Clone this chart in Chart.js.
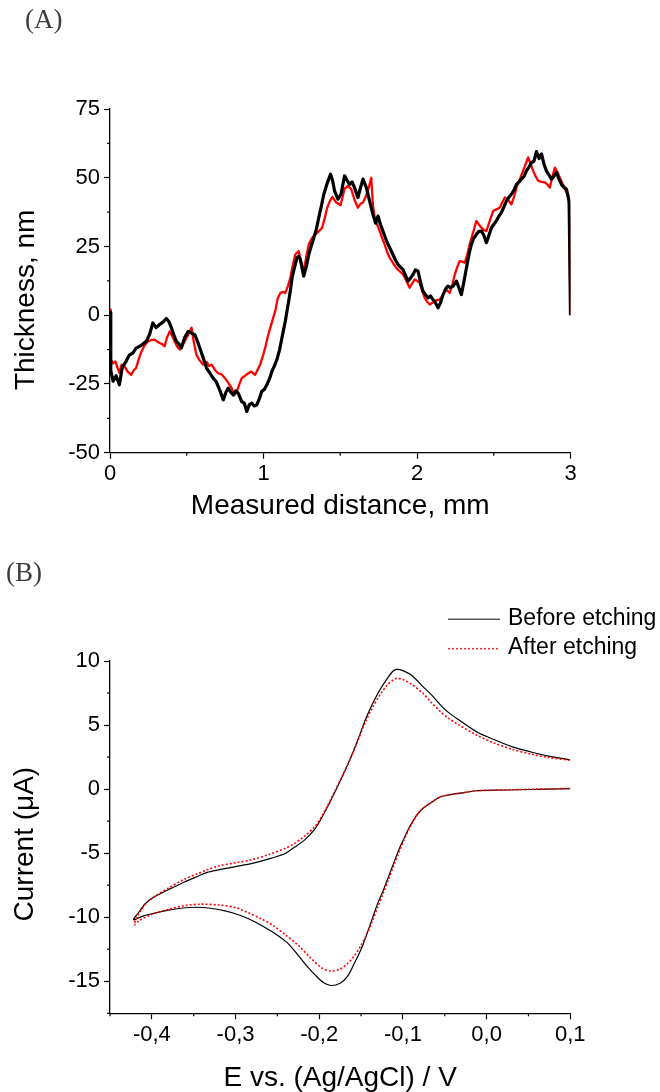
<!DOCTYPE html>
<html><head><meta charset="utf-8">
<script src="https://cdn.jsdelivr.net/npm/chart.js@4.4.1/dist/chart.umd.min.js"></script>
<style>
html,body{margin:0;padding:0;background:#fff;}
#wrap{position:relative;width:660px;height:1092px;overflow:hidden;background:#fff;}
canvas{position:absolute;left:0;}
.panel{position:absolute;font-family:"Liberation Serif","Times New Roman",serif;font-size:27px;line-height:27px;color:#3c3c3c;white-space:nowrap;}
</style></head><body>
<div id="wrap">
<canvas id="chartA" width="660" height="540" style="top:0px"></canvas>
<canvas id="chartB" width="660" height="552" style="top:540px"></canvas>
<div class="panel" style="left:25px;top:6px">(A)</div>
<div class="panel" style="left:6px;top:559px">(B)</div>
</div>
<script>
// ---------- Panel A: thickness profile ----------
const distanceBefore = [0, 0.005, 0.02, 0.04, 0.061, 0.08, 0.105, 0.125, 0.148, 0.17, 0.192, 0.215, 0.236, 0.258, 0.279, 0.3, 0.323, 0.345, 0.367, 0.385, 0.4, 0.415, 0.432, 0.45, 0.465, 0.487, 0.509, 0.53, 0.552, 0.57, 0.585, 0.607, 0.629, 0.65, 0.672, 0.69, 0.705, 0.72, 0.738, 0.755, 0.771, 0.787, 0.803, 0.82, 0.836, 0.858, 0.875, 0.891, 0.908, 0.924, 0.94, 0.956, 0.972, 0.989, 1.005, 1.022, 1.04, 1.055, 1.07, 1.087, 1.105, 1.12, 1.13, 1.142, 1.153, 1.164, 1.175, 1.186, 1.2, 1.218, 1.23, 1.24, 1.25, 1.262, 1.28, 1.295, 1.31, 1.328, 1.345, 1.36, 1.378, 1.393, 1.415, 1.437, 1.45, 1.463, 1.485, 1.505, 1.528, 1.545, 1.561, 1.577, 1.593, 1.615, 1.63, 1.648, 1.67, 1.691, 1.713, 1.73, 1.746, 1.762, 1.778, 1.795, 1.811, 1.827, 1.843, 1.86, 1.876, 1.892, 1.909, 1.925, 1.941, 1.958, 1.974, 1.99, 2.007, 2.023, 2.039, 2.055, 2.072, 2.088, 2.104, 2.12, 2.137, 2.153, 2.17, 2.186, 2.202, 2.218, 2.235, 2.257, 2.273, 2.289, 2.305, 2.322, 2.338, 2.354, 2.37, 2.387, 2.403, 2.42, 2.436, 2.452, 2.468, 2.485, 2.5, 2.517, 2.533, 2.55, 2.567, 2.583, 2.6, 2.615, 2.632, 2.648, 2.665, 2.68, 2.697, 2.713, 2.73, 2.746, 2.762, 2.778, 2.795, 2.811, 2.827, 2.843, 2.86, 2.876, 2.892, 2.909, 2.925, 2.941, 2.958, 2.974, 2.991, 3.0];
const thicknessBefore = [1, -20, -24, -22, -25.3, -19, -16.8, -14.5, -13.8, -12, -11.3, -10.5, -9.5, -7, -2.8, -4.5, -3.4, -2.5, -1.2, -2.5, -4.6, -7, -9.5, -10.5, -11.9, -8, -5.9, -6.5, -7.1, -9.5, -11.9, -15.5, -19.2, -21, -22.9, -24, -25.9, -28, -30.8, -28, -26.5, -28, -29, -27.5, -28.4, -31.4, -32, -35, -32.5, -32, -33, -32.6, -30.5, -27.7, -27, -25.3, -23, -20.4, -18.5, -16.2, -12.5, -8.3, -5.5, -2.2, 1.5, 5.1, 9, 13.6, 17, 20.9, 21.5, 20.3, 17.5, 14.2, 18, 22.1, 25, 28.2, 31.5, 35.5, 40, 44, 48, 51.3, 49, 45.2, 42.2, 44, 50.7, 49, 47.6, 48.5, 46.4, 42.8, 46, 49.5, 46.4, 41.6, 36.7, 33.5, 36.1, 33, 30.6, 28, 25.8, 24, 22.1, 20, 18.5, 17.5, 16.6, 14.5, 12.4, 13.5, 14.8, 16.5, 16, 12, 8.7, 7.5, 6.3, 7, 5.7, 4.5, 2.7, 4.5, 7.5, 9.5, 10.6, 10, 10.6, 12.4, 10, 7.5, 12, 17.2, 22, 25.8, 28, 29.4, 30.5, 30.6, 29, 26.4, 29, 31.8, 33, 34.3, 36, 37.3, 39.5, 41.6, 43, 44, 45.5, 47.6, 48.5, 49.5, 50.5, 52.5, 54, 55.5, 56, 59.5, 57, 58.7, 55, 52.5, 51, 49.5, 50.5, 51.9, 49.5, 47.6, 46.5, 45.8, 41.6, 0];
const distanceAfter = [0, 0.005, 0.02, 0.035, 0.05, 0.061, 0.075, 0.094, 0.115, 0.138, 0.155, 0.17, 0.19, 0.205, 0.225, 0.247, 0.27, 0.29, 0.305, 0.323, 0.34, 0.356, 0.372, 0.389, 0.405, 0.421, 0.438, 0.454, 0.47, 0.487, 0.51, 0.531, 0.545, 0.563, 0.585, 0.607, 0.63, 0.645, 0.662, 0.685, 0.705, 0.727, 0.749, 0.77, 0.793, 0.81, 0.825, 0.84, 0.858, 0.88, 0.901, 0.92, 0.945, 0.96, 0.978, 0.995, 1.011, 1.027, 1.044, 1.06, 1.076, 1.092, 1.109, 1.125, 1.142, 1.158, 1.175, 1.19, 1.207, 1.229, 1.245, 1.262, 1.278, 1.295, 1.315, 1.338, 1.36, 1.382, 1.4, 1.415, 1.433, 1.448, 1.474, 1.502, 1.528, 1.55, 1.572, 1.593, 1.615, 1.632, 1.648, 1.665, 1.68, 1.702, 1.713, 1.724, 1.74, 1.757, 1.773, 1.789, 1.805, 1.822, 1.843, 1.865, 1.887, 1.909, 1.93, 1.952, 1.968, 1.985, 2.0, 2.017, 2.033, 2.05, 2.067, 2.083, 2.1, 2.115, 2.13, 2.148, 2.165, 2.18, 2.197, 2.213, 2.23, 2.246, 2.262, 2.278, 2.295, 2.311, 2.327, 2.343, 2.365, 2.387, 2.403, 2.42, 2.436, 2.452, 2.475, 2.496, 2.517, 2.539, 2.555, 2.572, 2.593, 2.615, 2.632, 2.648, 2.67, 2.691, 2.708, 2.724, 2.74, 2.757, 2.773, 2.789, 2.81, 2.833, 2.85, 2.865, 2.88, 2.898, 2.915, 2.93, 2.947, 2.963, 2.98, 2.991, 3.0];
const thicknessAfter = [2, -16, -17.5, -16.8, -19.2, -21, -18, -18.5, -20.5, -21.7, -20, -19.2, -15.5, -13.2, -11, -9.5, -9, -8.9, -9.5, -10.1, -10.5, -11.3, -8, -5.9, -7.5, -9.5, -11.5, -12.5, -11, -9.5, -7, -4.5, -9.5, -14.4, -16.5, -18, -17, -18.5, -18, -20, -21.1, -21.5, -22.9, -24.5, -26.5, -29, -28, -25.5, -22.9, -22, -21.1, -20.5, -21.7, -20, -18, -15, -11.9, -8, -4.6, -1.5, 1.4, 6, 8, 8.5, 8.1, 10.5, 13.6, 18, 22.1, 23.3, 19.5, 16, 21, 25.8, 28, 29.4, 30.5, 31.8, 35.5, 39.1, 41.6, 43, 41, 40, 46, 47, 45.8, 42, 39.1, 40.5, 41, 43, 45.2, 50, 40, 35.5, 33, 30.6, 28, 25.8, 23, 20.9, 19, 17.2, 16, 14.8, 12.5, 10, 11.5, 13, 12.5, 11.8, 9, 6.3, 4.8, 3.9, 4.5, 5.1, 5.5, 5.7, 7, 8.7, 9, 8.1, 11, 14.8, 17.5, 19.7, 19.5, 19.1, 22, 25.8, 30, 34.3, 33, 31.8, 31, 30.6, 34.5, 37.9, 38.5, 39.1, 41, 42.8, 42, 40.3, 43, 46.4, 49.5, 52.5, 55, 57.4, 55, 52.5, 50.5, 48.9, 48.5, 48.3, 47.5, 46.4, 50, 53.7, 52, 50.1, 48, 45.8, 44, 40.3, 0];
const distanceTicks = [0, 1, 2, 3];
const distanceMinorTicks = [0.5, 1.5, 2.5];
const thicknessTicks = [-50, -25, 0, 25, 50, 75];
const thicknessMinorTicks = [-37.5, -12.5, 12.5, 37.5, 62.5];

// ---------- Panel B: cyclic voltammograms ----------
const seriesLabels = ['Before etching', 'After etching'];
const potentialBefore = [0.1, 0.075, 0.05, 0.025, 0, -0.012, -0.03, -0.045, -0.055, -0.064, -0.076, -0.083, -0.089, -0.094, -0.099, -0.104, -0.11, -0.117, -0.124, -0.13, -0.136, -0.143, -0.15, -0.158, -0.166, -0.175, -0.186, -0.195, -0.205, -0.215, -0.226, -0.238, -0.25, -0.265, -0.28, -0.295, -0.31, -0.33, -0.347, -0.365, -0.38, -0.395, -0.41, -0.422, -0.416, -0.408, -0.398, -0.388, -0.377, -0.361, -0.345, -0.334, -0.32, -0.3, -0.28, -0.26, -0.248, -0.24, -0.231, -0.218, -0.205, -0.195, -0.184, -0.173, -0.162, -0.153, -0.145, -0.136, -0.128, -0.119, -0.112, -0.107, -0.1, -0.09, -0.076, -0.065, -0.055, -0.045, -0.033, -0.012, 0.01, 0.031, 0.053, 0.074, 0.1];
const currentBefore = [0.03, 0, -0.03, -0.07, -0.1, -0.13, -0.3, -0.45, -0.6, -0.95, -1.5, -2, -2.6, -3.2, -3.9, -4.6, -5.6, -6.8, -8, -8.9, -10, -11.3, -12.5, -13.6, -14.6, -15.15, -15.33, -15.1, -14.5, -13.8, -12.9, -12, -11.4, -10.8, -10.25, -9.85, -9.55, -9.3, -9.22, -9.3, -9.45, -9.65, -9.9, -10.2, -9.65, -8.95, -8.45, -8.1, -7.75, -7.25, -6.8, -6.5, -6.3, -6.05, -5.8, -5.45, -5.2, -5, -4.6, -4, -3.1, -2, -0.6, 0.9, 2.5, 4, 5.4, 6.7, 7.7, 8.6, 9.2, 9.35, 9.25, 8.9, 8, 7.3, 6.56, 5.95, 5.4, 4.48, 3.83, 3.3, 2.9, 2.58, 2.29];
const potentialAfter = [0.1, 0.075, 0.05, 0.025, 0, -0.012, -0.03, -0.045, -0.055, -0.064, -0.076, -0.083, -0.089, -0.094, -0.099, -0.104, -0.11, -0.117, -0.124, -0.13, -0.136, -0.143, -0.15, -0.158, -0.166, -0.175, -0.186, -0.197, -0.21, -0.225, -0.24, -0.255, -0.27, -0.285, -0.3, -0.32, -0.341, -0.361, -0.381, -0.401, -0.416, -0.421, -0.419, -0.413, -0.406, -0.396, -0.381, -0.361, -0.345, -0.334, -0.32, -0.3, -0.28, -0.26, -0.24, -0.231, -0.218, -0.205, -0.195, -0.184, -0.173, -0.162, -0.153, -0.145, -0.136, -0.128, -0.119, -0.112, -0.107, -0.1, -0.09, -0.076, -0.065, -0.055, -0.045, -0.033, -0.012, 0.01, 0.031, 0.053, 0.074, 0.1];
const currentAfter = [0.05, 0.02, -0.02, -0.06, -0.1, -0.13, -0.3, -0.45, -0.6, -0.95, -1.5, -2, -2.65, -3.3, -4, -4.8, -5.8, -7, -8.2, -9.2, -10.2, -11.3, -12.2, -13, -13.6, -14.05, -14.2, -13.95, -13.2, -12.2, -11.4, -10.65, -10.1, -9.65, -9.25, -9.05, -8.98, -9.1, -9.4, -9.8, -10.3, -10.6, -10.15, -9.45, -8.85, -8.35, -7.75, -7.03, -6.6, -6.3, -6, -5.75, -5.5, -5.1, -4.6, -4.3, -3.7, -2.9, -1.9, -0.5, 0.95, 2.5, 3.9, 5.2, 6.4, 7.3, 8.1, 8.5, 8.65, 8.55, 8.2, 7.47, 6.7, 6.04, 5.5, 5, 4.22, 3.57, 3.1, 2.73, 2.47, 2.24];
const potentialTicks = [-0.4, -0.3, -0.2, -0.1, 0.0, 0.1];
const potentialTickLabels = ['-0,4', '-0,3', '-0,2', '-0,1', '0,0', '0,1'];
const potentialMinorTicks = [-0.45, -0.35, -0.25, -0.15, -0.05, 0.05];
const currentTicks = [-15, -10, -5, 0, 5, 10];
const currentMinorTicks = [-17.5, -12.5, -7.5, -2.5, 2.5, 7.5];

const SANS = "'Liberation Sans', Arial, Helvetica, sans-serif";
Chart.defaults.font.family = SANS;
Chart.defaults.color = '#000';

const pairs = (xs, ys) => xs.map((x, i) => ({ x: x, y: ys[i] }));

// minor tick marks, placed through the chart's own scales
const minorTicksPlugin = {
  id: 'minorTicks',
  afterDraw(chart, args, opts) {
    const ctx = chart.ctx, xs = chart.scales.x, ys = chart.scales.y;
    ctx.save();
    ctx.strokeStyle = '#000';
    ctx.lineWidth = 1.2;
    (opts.x || []).forEach(v => {
      const p = xs.getPixelForValue(v);
      ctx.beginPath(); ctx.moveTo(p, xs.top); ctx.lineTo(p, xs.top + opts.len); ctx.stroke();
    });
    (opts.y || []).forEach(v => {
      const p = ys.getPixelForValue(v);
      ctx.beginPath(); ctx.moveTo(ys.right, p); ctx.lineTo(ys.right - opts.len, p); ctx.stroke();
    });
    ctx.restore();
  }
};

// shift the y-axis title along the axis
const titleShiftPlugin = {
  id: 'titleShift',
  beforeDraw(chart, args, opts) {
    const s = chart.scales.y;
    if (!s || s._titleShifted) return;
    const orig = s.drawTitle;
    s.drawTitle = function () {
      const c = this.ctx; c.save(); c.translate(0, opts.dy || 0); orig.call(this); c.restore();
    };
    s._titleShifted = true;
  }
};

// two-row line legend at the top right of panel B
const lineLegendPlugin = {
  id: 'lineLegend',
  afterDraw(chart, args, opts) {
    if (!opts || !opts.display) return;
    const ctx = chart.ctx;
    ctx.save();
    ctx.font = opts.fontSize + 'px ' + SANS;
    ctx.textBaseline = 'middle';
    ctx.textAlign = 'left';
    chart.data.datasets.forEach((ds, i) => {
      const y = opts.y + i * opts.rowGap;
      ctx.strokeStyle = opts.lineColors[i];
      ctx.lineWidth = opts.lineWidths[i];
      ctx.setLineDash(ds.borderDash || []);
      ctx.beginPath(); ctx.moveTo(opts.x, y); ctx.lineTo(opts.x + opts.lineLen, y); ctx.stroke();
      ctx.setLineDash([]);
      ctx.fillStyle = '#000';
      ctx.fillText(ds.label, opts.x + opts.lineLen + opts.gap, y - 1);
    });
    ctx.restore();
  }
};

Chart.register(minorTicksPlugin, titleShiftPlugin, lineLegendPlugin);

function axisCommon(extra) {
  return Object.assign({
    type: 'linear',
    grid: { display: true, drawOnChartArea: false, drawTicks: true, tickLength: 6, tickColor: '#000', tickWidth: 1.2 },
    border: { display: true, color: '#000', width: 1.3 },
  }, extra);
}

// ---------- Chart A ----------
new Chart(document.getElementById('chartA'), {
  type: 'scatter',
  data: {
    datasets: [
      { label: 'Before etching', data: pairs(distanceBefore, thicknessBefore), showLine: true,
        borderColor: '#000000', borderWidth: 3.2, pointRadius: 0, tension: 0, borderJoinStyle: 'round', order: 0 },
      { label: 'After etching', data: pairs(distanceAfter, thicknessAfter), showLine: true,
        borderColor: '#ff0000', borderWidth: 2.3, pointRadius: 0, tension: 0, borderJoinStyle: 'round', order: 1 }
    ]
  },
  options: {
    responsive: false, animation: false, events: [],
    layout: { padding: { top: 109, right: 89.5, left: 0, bottom: 0 } },
    plugins: {
      legend: { display: false }, tooltip: { enabled: false },
      minorTicks: { x: distanceMinorTicks, y: thicknessMinorTicks, len: 3 },
      titleShift: { dy: 19 },
      lineLegend: { display: false }
    },
    scales: {
      x: axisCommon({
        position: 'bottom', min: 0, max: 3,
        afterBuildTicks: s => { s.ticks = distanceTicks.map(v => ({ value: v })); },
        afterFit: s => { s.height = 87.3; },
        ticks: { color: '#000', font: { size: 22 }, padding: 2, maxRotation: 0, autoSkip: false,
                 callback: (v) => String(v) },
        title: { display: true, text: 'Measured distance, mm', color: '#000',
                 font: { size: 28, lineHeight: 1 }, padding: { top: 0, bottom: 20 } }
      }),
      y: axisCommon({
        position: 'left', min: -50, max: 75,
        afterBuildTicks: s => { s.ticks = thicknessTicks.map(v => ({ value: v })); },
        afterFit: s => { s.width = 110; },
        ticks: { color: '#000', font: { size: 22 }, padding: 4, autoSkip: false,
                 callback: (v) => String(v) },
        title: { display: true, text: 'Thickness, nm', color: '#000',
                 font: { size: 28, lineHeight: 1 }, padding: { top: 12, bottom: 0 } }
      })
    }
  }
});

// ---------- Chart B ----------
new Chart(document.getElementById('chartB'), {
  type: 'scatter',
  data: {
    datasets: [
      { label: seriesLabels[0], data: pairs(potentialBefore, currentBefore), showLine: true,
        borderColor: '#000000', borderWidth: 1.2, pointRadius: 0, tension: 0.3, order: 1 },
      { label: seriesLabels[1], data: pairs(potentialAfter, currentAfter), showLine: true,
        borderColor: '#ff0000', borderWidth: 1.6, borderDash: [2, 2], pointRadius: 0, tension: 0.3, order: 0 }
    ]
  },
  options: {
    responsive: false, animation: false, events: [],
    layout: { padding: { top: 121, right: 89.7, left: 0, bottom: 0 } },
    plugins: {
      legend: { display: false }, tooltip: { enabled: false },
      minorTicks: { x: potentialMinorTicks, y: currentMinorTicks, len: 3 },
      titleShift: { dy: 7 },
      lineLegend: { display: true, x: 448, y: 79.3, rowGap: 29.4, lineLen: 52, gap: 8, fontSize: 23,
                    lineColors: ['#5a5a5a', '#ff2a2a'], lineWidths: [1.6, 1.6] }
    },
    scales: {
      x: axisCommon({
        position: 'bottom', min: -0.45, max: 0.1,
        afterBuildTicks: s => { s.ticks = potentialTicks.map(v => ({ value: v })); },
        afterFit: s => { s.height = 78.7; },
        ticks: { color: '#000', font: { size: 22 }, padding: 2, maxRotation: 0, autoSkip: false,
                 callback: (v, i) => potentialTickLabels[i] },
        title: { display: true, text: 'E vs. (Ag/AgCl) / V', color: '#000',
                 font: { size: 28, lineHeight: 1 }, padding: { top: 0, bottom: 0 } }
      }),
      y: axisCommon({
        position: 'left', min: -17.5, max: 10,
        afterBuildTicks: s => { s.ticks = currentTicks.map(v => ({ value: v })); },
        afterFit: s => { s.width = 110; },
        ticks: { color: '#000', font: { size: 22 }, padding: 4, autoSkip: false,
                 callback: (v) => String(v) },
        title: { display: true, text: 'Current (\u03BCA)', color: '#000',
                 font: { size: 28, lineHeight: 1 }, padding: { top: 11, bottom: 0 } }
      })
    }
  }
});
</script>
</body></html>
